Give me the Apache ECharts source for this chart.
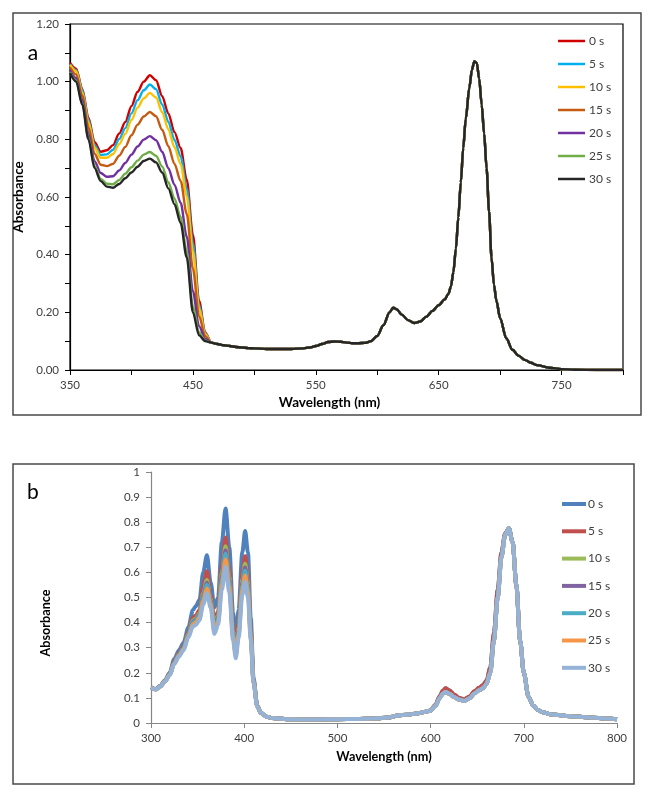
<!DOCTYPE html>
<html>
<head>
<meta charset="utf-8">
<script src="https://cdn.jsdelivr.net/npm/echarts@6/dist/echarts.min.js"></script>
<style>
  html, body { margin: 0; padding: 0; background: #fff; }
  #main { width: 654px; height: 798px; }
</style>
</head>
<body>
<div id="main"></div>
<script>
// ---- panel a ----
var timesA = ['0 s', '5 s', '10 s', '15 s', '20 s', '25 s', '30 s'];
var colorsA = ['#D00000', '#00B0F0', '#FFC000', '#C55A11', '#7030A0', '#70AD47', '#262626'];
var waveA = [350, 355, 360, 365, 370, 375, 380, 385, 390, 395, 400, 405, 410, 415, 420, 425, 430, 435, 440, 445, 450, 455, 460];
var a0 = [1.065, 1.045, 0.975, 0.875, 0.79, 0.757, 0.762, 0.78, 0.82, 0.86, 0.915, 0.965, 1.0, 1.022, 1.005, 0.95, 0.89, 0.825, 0.77, 0.66, 0.47, 0.24, 0.13];
var a5 = [1.06, 1.04, 0.97, 0.867, 0.78, 0.746, 0.748, 0.764, 0.801, 0.839, 0.89, 0.936, 0.97, 0.99, 0.974, 0.921, 0.861, 0.798, 0.741, 0.63, 0.44, 0.227, 0.127];
var a10 = [1.058, 1.036, 0.963, 0.859, 0.771, 0.736, 0.736, 0.749, 0.783, 0.819, 0.867, 0.91, 0.942, 0.961, 0.945, 0.894, 0.835, 0.773, 0.715, 0.603, 0.413, 0.215, 0.124];
var a15 = [1.05, 1.025, 0.951, 0.842, 0.75, 0.712, 0.707, 0.715, 0.743, 0.774, 0.814, 0.851, 0.879, 0.895, 0.88, 0.833, 0.776, 0.715, 0.656, 0.541, 0.351, 0.187, 0.117];
var a20 = [1.039, 1.012, 0.935, 0.82, 0.724, 0.683, 0.67, 0.672, 0.692, 0.718, 0.747, 0.775, 0.799, 0.811, 0.797, 0.757, 0.70, 0.643, 0.58, 0.463, 0.273, 0.152, 0.108];
var a25 = [1.033, 1.004, 0.924, 0.806, 0.707, 0.663, 0.646, 0.644, 0.659, 0.681, 0.703, 0.726, 0.747, 0.756, 0.743, 0.706, 0.651, 0.595, 0.531, 0.412, 0.222, 0.13, 0.102];
var a30 = [1.03, 1.0, 0.92, 0.80, 0.70, 0.655, 0.636, 0.632, 0.645, 0.665, 0.685, 0.705, 0.725, 0.733, 0.72, 0.685, 0.63, 0.575, 0.51, 0.39, 0.20, 0.12, 0.10];
// beyond 460 nm all spectra of panel a coincide
var tailWaveA = [465, 470, 475, 480, 485, 490, 495, 500, 510, 520, 530, 540, 545, 550, 555, 560, 565, 570, 575, 580, 585, 590, 595, 600, 605, 610, 613, 616, 620, 625, 630, 635, 640, 645, 650, 655, 658, 660, 662, 664, 666, 668, 670, 672, 675, 677, 679, 681, 683, 685, 687, 689, 691, 693, 695, 697, 700, 705, 710, 715, 720, 725, 730, 740, 750, 760, 780, 800];
var tailA = [0.095, 0.09, 0.086, 0.083, 0.08, 0.078, 0.076, 0.075, 0.073, 0.073, 0.073, 0.075, 0.078, 0.083, 0.09, 0.097, 0.099, 0.098, 0.095, 0.093, 0.093, 0.094, 0.10, 0.118, 0.155, 0.20, 0.216, 0.21, 0.192, 0.173, 0.163, 0.168, 0.185, 0.205, 0.225, 0.245, 0.265, 0.29, 0.34, 0.42, 0.53, 0.65, 0.77, 0.87, 0.98, 1.04, 1.07, 1.065, 1.01, 0.92, 0.82, 0.70, 0.55, 0.39, 0.295, 0.24, 0.18, 0.11, 0.07, 0.05, 0.035, 0.025, 0.017, 0.008, 0.003, 0.001, 0, 0];

// ---- panel b ----
var timesB = ['0 s', '5 s', '10 s', '15 s', '20 s', '25 s', '30 s'];
var colorsB = ['#4F81BD', '#C0504D', '#9BBB59', '#8064A2', '#4BACC6', '#F79646', '#95B3D7'];
var waveB = [300, 305, 310, 315, 320, 325, 330, 335, 340, 345, 348, 352, 356, 360, 364, 368, 372, 376, 380, 384, 388, 391, 394, 398, 401, 404, 407, 410, 414, 418, 424, 430];
var b0 = [0.142, 0.135, 0.148, 0.17, 0.2, 0.255, 0.29, 0.32, 0.38, 0.45, 0.465, 0.49, 0.6, 0.668, 0.56, 0.46, 0.5, 0.72, 0.855, 0.7, 0.44, 0.33, 0.45, 0.68, 0.765, 0.68, 0.42, 0.18, 0.07, 0.04, 0.025, 0.02];
var b5 = [0.141, 0.134, 0.147, 0.168, 0.195, 0.245, 0.278, 0.305, 0.36, 0.418, 0.428, 0.45, 0.54, 0.605, 0.51, 0.408, 0.445, 0.625, 0.739, 0.61, 0.385, 0.294, 0.395, 0.595, 0.664, 0.59, 0.375, 0.17, 0.068, 0.04, 0.025, 0.02];
var b10 = [0.141, 0.134, 0.146, 0.167, 0.194, 0.242, 0.274, 0.30, 0.354, 0.408, 0.416, 0.438, 0.516, 0.57, 0.495, 0.392, 0.428, 0.597, 0.704, 0.583, 0.368, 0.283, 0.378, 0.57, 0.634, 0.563, 0.362, 0.167, 0.067, 0.04, 0.025, 0.02];
var b15 = [0.141, 0.134, 0.146, 0.166, 0.193, 0.241, 0.272, 0.298, 0.351, 0.403, 0.411, 0.432, 0.506, 0.559, 0.488, 0.384, 0.421, 0.583, 0.688, 0.57, 0.361, 0.278, 0.371, 0.558, 0.62, 0.55, 0.355, 0.166, 0.066, 0.04, 0.025, 0.02];
var b20 = [0.14, 0.133, 0.146, 0.166, 0.192, 0.239, 0.27, 0.297, 0.349, 0.399, 0.407, 0.428, 0.499, 0.55, 0.482, 0.378, 0.414, 0.572, 0.674, 0.56, 0.354, 0.274, 0.364, 0.547, 0.607, 0.54, 0.35, 0.164, 0.066, 0.04, 0.025, 0.02];
var b25 = [0.14, 0.133, 0.145, 0.166, 0.191, 0.237, 0.268, 0.294, 0.345, 0.393, 0.399, 0.42, 0.486, 0.535, 0.472, 0.368, 0.403, 0.553, 0.651, 0.542, 0.343, 0.267, 0.353, 0.53, 0.587, 0.522, 0.341, 0.162, 0.066, 0.04, 0.025, 0.02];
var b30 = [0.14, 0.133, 0.145, 0.165, 0.19, 0.235, 0.265, 0.29, 0.34, 0.385, 0.39, 0.41, 0.47, 0.517, 0.46, 0.355, 0.39, 0.53, 0.623, 0.52, 0.33, 0.258, 0.34, 0.51, 0.563, 0.5, 0.33, 0.16, 0.065, 0.04, 0.025, 0.02];
var tailWaveB = [436, 445, 460, 480, 500, 520, 540, 555, 565, 575, 585, 595, 600, 605, 610, 613, 616, 620, 625, 630, 636, 642, 647, 652, 656, 660, 664, 668, 672, 676, 680, 684, 688, 692, 696, 700, 705, 710, 715, 720, 730, 750, 770, 790, 800];
// 0 s and 5 s sit a bit higher on the Q bands
var tailEarlyB = [0.018, 0.015, 0.014, 0.014, 0.015, 0.016, 0.018, 0.022, 0.03, 0.033, 0.038, 0.045, 0.05, 0.072, 0.108, 0.128, 0.138, 0.13, 0.114, 0.101, 0.094, 0.106, 0.126, 0.14, 0.15, 0.168, 0.22, 0.36, 0.53, 0.68, 0.755, 0.776, 0.72, 0.55, 0.33, 0.2, 0.105, 0.07, 0.052, 0.043, 0.034, 0.027, 0.022, 0.018, 0.015];
var tailLateB = [0.018, 0.015, 0.014, 0.014, 0.015, 0.016, 0.018, 0.022, 0.03, 0.033, 0.038, 0.045, 0.05, 0.068, 0.1, 0.117, 0.124, 0.117, 0.104, 0.094, 0.088, 0.099, 0.118, 0.13, 0.138, 0.155, 0.2, 0.33, 0.5, 0.66, 0.75, 0.776, 0.72, 0.55, 0.33, 0.2, 0.105, 0.07, 0.052, 0.043, 0.034, 0.027, 0.022, 0.018, 0.015];

var frontA = [a0, a5, a10, a15, a20, a25, a30];
var frontB = [b0, b5, b10, b15, b20, b25, b30];
var tailsB = [tailEarlyB, tailEarlyB, tailLateB, tailLateB, tailLateB, tailLateB, tailLateB];

var FONT = 'Lato';

function pairs(xs, ys) {
    return xs.map(function (x, i) { return [x, ys[i]]; });
}

var series = [];
timesA.forEach(function (t, i) {
    series.push({
        type: 'line', name: 'a|' + t, xAxisIndex: 0, yAxisIndex: 0,
        data: pairs(waveA, frontA[i]).concat(pairs(tailWaveA, tailA)),
        showSymbol: false, symbol: 'none', smooth: 0.3, smoothMonotone: 'x',
        lineStyle: {width: 2.4, color: colorsA[i]}, itemStyle: {color: colorsA[i]}
    });
});
timesB.forEach(function (t, i) {
    series.push({
        type: 'line', name: 'b|' + t, xAxisIndex: 1, yAxisIndex: 1,
        data: pairs(waveB, frontB[i]).concat(pairs(tailWaveB, tailsB[i])),
        showSymbol: false, symbol: 'none', smooth: 0.3, smoothMonotone: 'x',
        lineStyle: {width: 4, color: colorsB[i]}, itemStyle: {color: colorsB[i]}
    });
});

var labelStyle = {color: '#404040', fontSize: 11.5, fontFamily: FONT};

var myChart = echarts.init(document.getElementById('main'));
myChart.setOption({
    animation: false,
    backgroundColor: '#fff',
    graphic: [
        {type: 'rect', shape: {x: 13, y: 13, width: 628, height: 402}, style: {fill: 'none', stroke: '#4a4a4a', lineWidth: 1.5}},
        {type: 'rect', shape: {x: 13, y: 464, width: 621, height: 320}, style: {fill: 'none', stroke: '#4a4a4a', lineWidth: 1.5}},
        {type: 'text', x: 33, y: 53, style: {text: 'a', fontSize: 21, fontFamily: FONT, fill: '#000', align: 'center', verticalAlign: 'middle'}},
        {type: 'text', x: 33, y: 492, style: {text: 'b', fontSize: 21, fontFamily: FONT, fill: '#000', align: 'center', verticalAlign: 'middle'}}
    ],
    legend: [
        {
            data: timesA.map(function (t) { return 'a|' + t; }),
            formatter: function (n) { return n.split('|')[1]; },
            orient: 'vertical', left: 553, top: 30, icon: 'rect', itemWidth: 27, itemHeight: 2.5, itemGap: 11,
            textStyle: {color: '#404040', fontSize: 12, fontFamily: FONT, padding: [0, 0, 0, -1]}
        },
        {
            data: timesB.map(function (t) { return 'b|' + t; }),
            formatter: function (n) { return n.split('|')[1]; },
            orient: 'vertical', left: 557, top: 493, icon: 'rect', itemWidth: 24, itemHeight: 4, itemGap: 15.3,
            textStyle: {color: '#404040', fontSize: 12, fontFamily: FONT, padding: [0, 0, 0, -3]}
        }
    ],
    grid: [
        {left: 70, top: 24, right: 31, bottom: 428, show: true, borderColor: '#000', borderWidth: 1.2},
        {left: 151, top: 472, right: 37, bottom: 75}
    ],
    xAxis: [
        {
            type: 'value', gridIndex: 0, min: 350, max: 800, interval: 50,
            name: 'Wavelength (nm)', nameLocation: 'middle', nameGap: 26,
            nameTextStyle: {color: '#000', fontSize: 13.5, fontWeight: 'bold', fontFamily: FONT, padding: [0, 34, 0, 0]},
            axisLine: {lineStyle: {color: '#000', width: 1.2}},
            axisTick: {length: 5, lineStyle: {color: '#000'}},
            axisLabel: Object.assign({margin: 9, formatter: function (v) { return v % 100 === 50 ? String(v) : ''; }}, labelStyle),
            splitLine: {show: false}
        },
        {
            type: 'value', gridIndex: 1, min: 300, max: 800, interval: 100,
            name: 'Wavelength (nm)', nameLocation: 'middle', nameGap: 27,
            nameTextStyle: {color: '#000', fontSize: 12.7, fontWeight: 'bold', fontFamily: FONT},
            axisLine: {lineStyle: {color: '#868686', width: 1.2}},
            axisTick: {length: 5, lineStyle: {color: '#868686'}},
            axisLabel: Object.assign({margin: 9}, labelStyle),
            splitLine: {show: false}
        }
    ],
    yAxis: [
        {
            type: 'value', gridIndex: 0, min: 0, max: 1.2, interval: 0.1,
            name: 'Absorbance', nameLocation: 'middle', nameGap: 33,
            nameTextStyle: {color: '#000', fontSize: 13.5, fontWeight: 'bold', fontFamily: FONT},
            axisLine: {show: true, lineStyle: {color: '#000', width: 1.2}},
            axisTick: {show: true, length: 5, lineStyle: {color: '#000'}},
            axisLabel: Object.assign({margin: 11, formatter: function (v) { return Math.round(v * 10) % 2 === 0 ? v.toFixed(2) : ''; }}, labelStyle),
            splitLine: {show: false}
        },
        {
            type: 'value', gridIndex: 1, min: 0, max: 1, interval: 0.1,
            name: 'Absorbance', nameLocation: 'middle', nameGap: 99,
            nameTextStyle: {color: '#000', fontSize: 12.7, fontWeight: 'bold', fontFamily: FONT, padding: [0, 51, 0, 0]},
            axisLine: {show: true, lineStyle: {color: '#868686', width: 1.2}},
            axisTick: {show: true, length: 5, lineStyle: {color: '#868686'}},
            axisLabel: Object.assign({margin: 11, formatter: function (v) { return String(Math.round(v * 10) / 10); }}, labelStyle),
            splitLine: {show: false}
        }
    ],
    series: series
});
</script>
</body>
</html>
